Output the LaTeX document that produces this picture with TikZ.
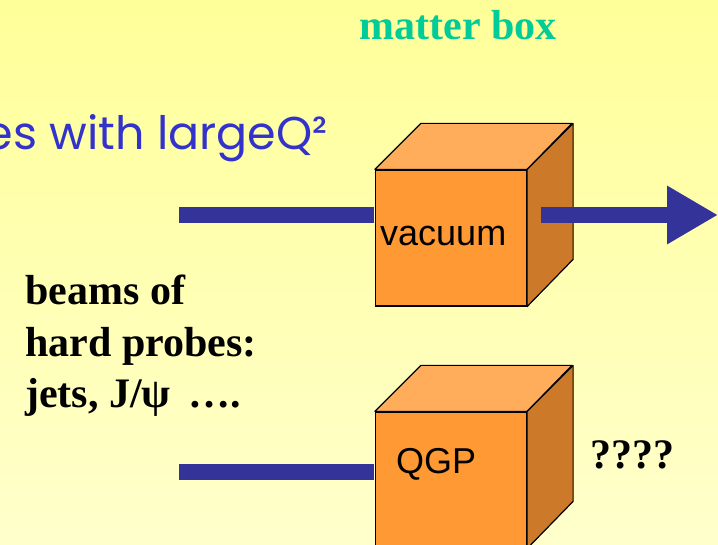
\documentclass[tikz,border=0pt]{standalone}
\usepackage{fontspec}
\setmainfont{Liberation Serif}
\setsansfont{Liberation Sans}
\newfontfamily\comicfont{Poppins}
\usetikzlibrary{arrows.meta}

\definecolor{bgtop}{HTML}{FFFF99}
\definecolor{bgbottom}{HTML}{FFFFCC}
\definecolor{boxfront}{HTML}{FF9933}
\definecolor{boxtop}{HTML}{FFAD5B}
\definecolor{boxside}{HTML}{CC7A29}
\definecolor{beamblue}{HTML}{333399}
\definecolor{titleteal}{HTML}{00CC99}
\definecolor{probeblue}{HTML}{3333CC}

\tikzset{
  front/.style={draw, line width=1.2pt, fill=boxfront, minimum width=151pt, minimum height=136pt, inner sep=0pt},
  face/.style={draw, line width=1.2pt, line join=round},
  beam/.style={beamblue, line width=16pt},
  bigbold/.style={font=\fontsize{42}{51}\selectfont\bfseries, inner sep=0pt},
  boxlabel/.style={font=\fontsize{36}{43}\selectfont\sffamily, inner sep=0pt},
}

\begin{document}
\begin{tikzpicture}[x=1pt, y=-1pt]
    \useasboundingbox (0,0) rectangle (718,545);
    \shade[top color=bgtop, bottom color=bgbottom] (0,0) rectangle (718,545);

    % Titles
    \node[bigbold, titleteal, anchor=base] (title) at (458,40) {matter box};
    \node[font=\fontsize{46}{55}\selectfont\comicfont, probeblue, anchor=base east, inner sep=0pt] (probes) at (328,150) {es with largeQ²};

    % Vacuum box
    \node[front] (vacbox) at (451,238) {};
    \draw[face, fill=boxtop] (vacbox.north west) -- ++(46,-46) -- ++(151,0) -- (vacbox.north east) -- cycle;
    \draw[face, fill=boxside] (vacbox.north east) -- ++(46,-46) -- ++(0,136) -- (vacbox.south east) -- cycle;
    \node[boxlabel, anchor=base west] (vaclabel) at (380,246) {vacuum};

    % Beam through vacuum
    \coordinate (inA) at (179,215);
    \coordinate (outA) at (541,215);
    \coordinate (tipA) at (718,215);
    \draw[beam, shorten >=0.6pt] (inA) -- (vacbox.west |- inA);
    \draw[beam, -{Triangle[length=51pt, width=55pt]}] (outA) -- (tipA);

    % QGP box
    \node[front] (qgpbox) at (451,480) {};
    \draw[face, fill=boxtop] (qgpbox.north west) -- ++(46,-46) -- ++(151,0) -- (qgpbox.north east) -- cycle;
    \draw[face, fill=boxside] (qgpbox.north east) -- ++(46,-46) -- ++(0,136) -- (qgpbox.south east) -- cycle;
    \node[boxlabel, anchor=base west] (qgplabel) at (396,473) {QGP};
    \node[bigbold, anchor=base west] (unknown) at (590,468) {????};

    % Beam into QGP
    \coordinate (inB) at (179,472);
    \draw[beam, shorten >=0.6pt] (inB) -- (qgpbox.west |- inB);

    % Hard probes
    \node[bigbold, anchor=base west] (beams1) at (25,305) {beams of};
    \node[bigbold, anchor=base west] (beams2) at (25,357) {hard probes:};
    \node[bigbold, anchor=base west] (beams3) at (25,407) {jets, J/ψ\ \,….};
\end{tikzpicture}
\end{document}
